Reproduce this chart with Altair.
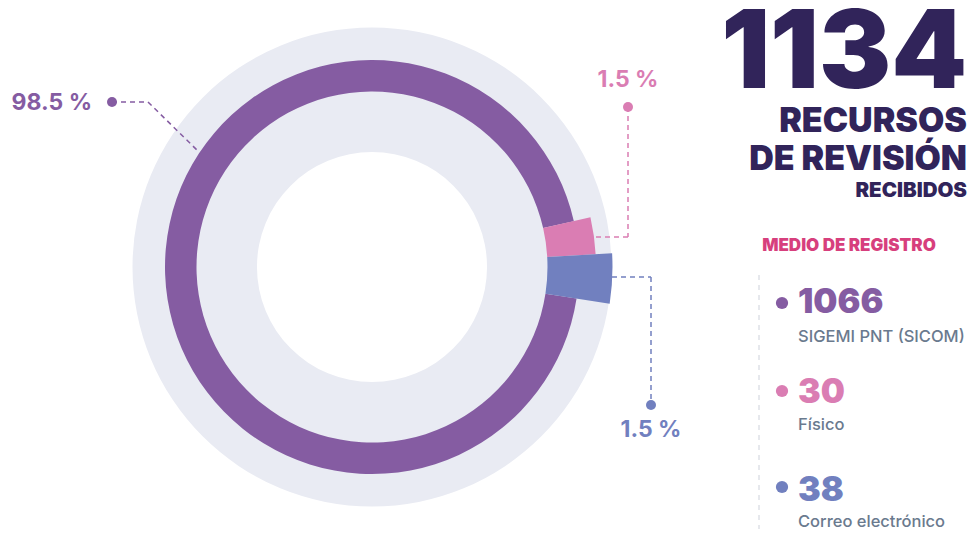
import math
import altair as alt
import pandas as pd

# ---- data ----
medios = ["Físico", "Correo electrónico", "SIGEMI PNT (SICOM)"]
recursos = [30, 38, 1066]
orden = [1, 2, 3]
porcentajes = ["1.5 %", "1.5 %", "98.5 %"]
titulo = ["RECURSOS", "DE REVISIÓN", "RECIBIDOS"]
subtitulo = "MEDIO DE REGISTRO"

total = sum(recursos)

PURPLE = "#855CA2"
PINK = "#DA7DB3"
BLUE = "#7180BF"
RING = "#E9EBF3"
DARK = "#31245A"
RED = "#D73F7D"
GREYTXT = "#6A7A8E"
FONT = "Inter"

OFF = 8  # page margin
CX, CY = 372 - OFF, 267 - OFF
START = math.radians(77.2)

df = pd.DataFrame({"medio": medios, "recursos": recursos, "orden": orden})
one = pd.DataFrame({"k": [0]})

theta_scale = alt.Scale(domain=[0, total], range=[START, START + 2 * math.pi])

layers = []

# background ring
layers.append(
    alt.Chart(one).mark_arc(innerRadius=115, outerRadius=239.5, theta=0, theta2=2 * math.pi, color=RING)
    .encode(x=alt.value(CX), y=alt.value(CY))
)

base = (
    alt.Chart(df)
    .transform_window(fin="sum(recursos)", sort=[alt.SortField("orden")], frame=[None, 0])
    .transform_calculate(ini="datum.fin - datum.recursos")
)
seg_style = {
    "SIGEMI PNT (SICOM)": (207, PURPLE),
    "Físico": (224, PINK),
    "Correo electrónico": (240.5, BLUE),
}
for m in ["SIGEMI PNT (SICOM)", "Físico", "Correo electrónico"]:
    r, c = seg_style[m]
    layers.append(
        base.transform_filter(alt.datum.medio == m)
        .mark_arc(innerRadius=175.5, outerRadius=r, color=c)
        .encode(
            theta=alt.Theta("ini:Q", scale=theta_scale),
            theta2="fin:Q",
            x=alt.value(CX),
            y=alt.value(CY),
        )
    )


def rule(x1, y1, x2, y2, color, dash=(5, 4), width=1.5):
    return alt.Chart(one).mark_rule(color=color, strokeDash=list(dash), strokeWidth=width).encode(
        x=alt.value(x1 - OFF), y=alt.value(y1 - OFF), x2=alt.value(x2 - OFF), y2=alt.value(y2 - OFF)
    )


def dot(x, y, color, size=100):
    return alt.Chart(one).mark_circle(color=color, size=size, opacity=1).encode(
        x=alt.value(x - OFF), y=alt.value(y - OFF)
    )


def txt(s, x, y, size, color, weight=700, align="left"):
    return alt.Chart(one).mark_text(
        text=s, align=align, baseline="alphabetic", fontSize=size, fontWeight=weight, font=FONT, color=color
    ).encode(x=alt.value(x - OFF), y=alt.value(y - OFF))


# leader lines
layers += [
    rule(112, 102, 148, 102, PURPLE),
    rule(148, 102, 199, 152, PURPLE),
    rule(628, 107, 628, 237, PINK),
    rule(628, 237, 595, 237, PINK),
    rule(612, 277, 651, 277, BLUE),
    rule(651, 277, 651, 405, BLUE),
    rule(759, 275, 759, 537, "#CDD1DA", dash=(5, 5), width=1),
    dot(112, 102, PURPLE),
    dot(628, 107, PINK),
    dot(651, 405, BLUE),
]

# percentage labels
layers += [
    txt(porcentajes[2], 92, 110, 23, PURPLE, 700, "right"),
    txt(porcentajes[0], 628, 87, 23, PINK, 700, "center"),
    txt(porcentajes[1], 651, 437, 23, BLUE, 700, "center"),
]

# title block
layers += [
    txt(str(total), 967, 88, 108, DARK, 900, "right"),
    txt(titulo[0], 967, 132, 34, DARK, 900, "right"),
    txt(titulo[1], 967, 170, 34, DARK, 900, "right"),
    txt(titulo[2], 967, 197, 20.5, DARK, 900, "right"),
    txt(subtitulo, 849, 251, 17, RED, 900, "center"),
]

# legend
leg = {
    "SIGEMI PNT (SICOM)": (313, 342, 303, PURPLE),
    "Físico": (403, 430, 391, PINK),
    "Correo electrónico": (501, 527, 487, BLUE),
}
for m, v in zip(medios, recursos):
    yb, yl, yd, c = leg[m]
    layers += [
        dot(782, yd, c, 150),
        txt(str(v), 798, yb, 34, c, 900),
        txt(m, 798, yl, 16.5, GREYTXT, 500),
    ]

chart = (
    alt.layer(*layers)
    .properties(width=975 - 2 * OFF, height=537 - 2 * OFF, padding=0, autosize="none")
    .configure_view(strokeWidth=0)
)
chart.save("out.html", embed_options={"renderer": "svg", "actions": False})
